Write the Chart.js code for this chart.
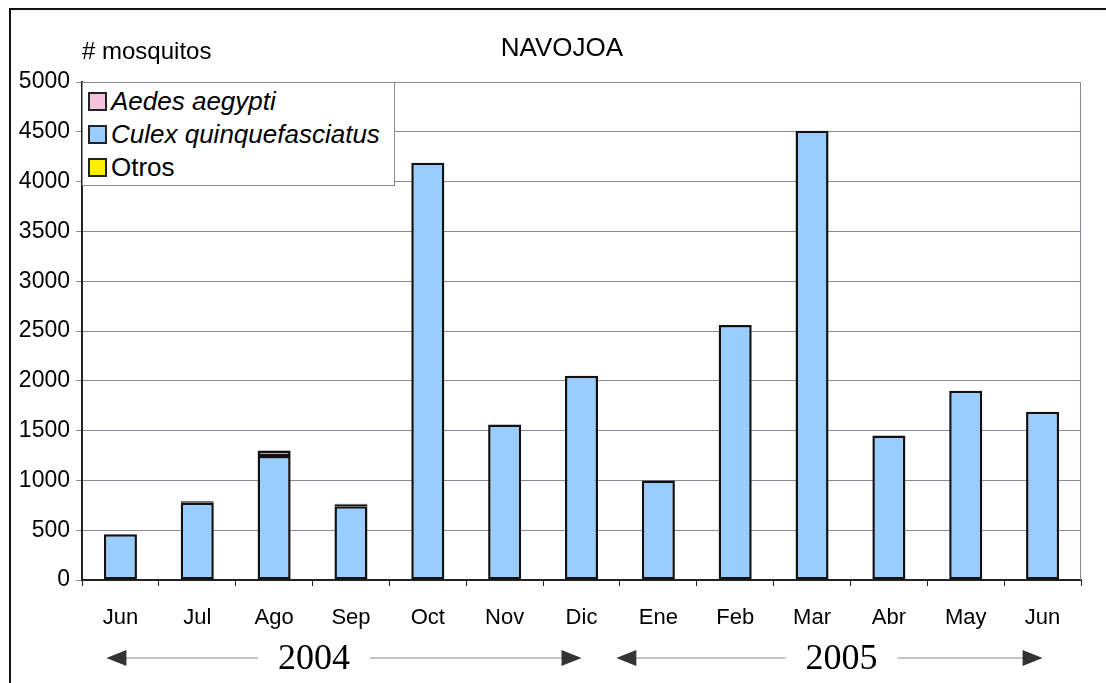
<!DOCTYPE html>
<html>
<head>
<meta charset="utf-8">
<script src="https://cdn.jsdelivr.net/npm/chart.js@4/dist/chart.umd.min.js"></script>
<style>
  html, body { margin: 0; padding: 0; background: #fff; }
  #wrap { position: relative; width: 1106px; height: 683px; overflow: hidden; font-family: 'Liberation Sans', Arial, sans-serif; }
  #frame { position: absolute; left: 9px; top: 8px; width: 1110px; height: 690px; border: 2px solid #111; box-sizing: border-box; pointer-events: none; }
  #title { position: absolute; left: 412px; width: 300px; top: 32px; text-align: center; font-size: 26px; color: #000; }
  #ylab { position: absolute; left: 82px; top: 37px; font-size: 24px; color: #000; }
  #legend { position: absolute; left: 82px; top: 82px; width: 313px; height: 104px; background: #fff; border: 1px solid #8a8a96; box-sizing: border-box; padding: 2px 0 0 5px; }
  .item { height: 33px; line-height: 33px; font-size: 26px; color: #000; white-space: nowrap; }
  .item i { font-style: italic; }
  .sw { display: inline-block; width: 15px; height: 15px; border: 2px solid #222; margin-right: 4px; vertical-align: -1px; }
  canvas { position: absolute; left: 0; top: 0; }
</style>
</head>
<body>
<div id="wrap">
  <canvas id="navChart" width="1106" height="683"></canvas>
  <div id="title">NAVOJOA</div>
  <div id="ylab"># mosquitos</div>
  <div id="legend"></div>
  <div id="frame"></div>
</div>
<script>
'use strict';

// --- data ---
const MONTHS = ['Jun', 'Jul', 'Ago', 'Sep', 'Oct', 'Nov', 'Dic', 'Ene', 'Feb', 'Mar', 'Abr', 'May', 'Jun'];
const CULEX  = [460, 775, 1245, 740, 4190, 1560, 2050, 1000, 2560, 4510, 1450, 1900, 1690];
const OTROS  = [null, 15, null, 15, null, null, null, null, null, null, null, null, null];
const AEDES  = [null, null, 55, 10, null, null, null, null, null, null, null, null, null];
const Y_TICKS = [0, 500, 1000, 1500, 2000, 2500, 3000, 3500, 4000, 4500, 5000];
const YEARS = ['2004', '2005'];
const YEAR_FROM = [0, 7];
const YEAR_TO = [6, 12];

const COL_AEDES = '#f5c4dc';
const COL_CULEX = '#99ccff';
const COL_OTROS = '#ffee00';

// legend (html)
const legendItems = [
  { label: 'Aedes aegypti', color: COL_AEDES, italic: true },
  { label: 'Culex quinquefasciatus', color: COL_CULEX, italic: true },
  { label: 'Otros', color: COL_OTROS, italic: false },
];
document.getElementById('legend').innerHTML = legendItems.map(it =>
  '<div class="item"><span class="sw" style="background:' + it.color + '"></span>' +
  (it.italic ? '<i>' + it.label + '</i>' : it.label) + '</div>').join('');

// plot frame (top/right grey border)
const frameBox = {
  id: 'frameBox',
  beforeDatasetsDraw(chart) {
    const { ctx, chartArea: a } = chart;
    ctx.save();
    ctx.strokeStyle = '#8a8a96';
    ctx.lineWidth = 1;
    ctx.beginPath();
    ctx.moveTo(a.left, a.top + 0.5);
    ctx.lineTo(a.right - 0.5, a.top + 0.5);
    ctx.lineTo(a.right - 0.5, a.bottom);
    ctx.stroke();
    ctx.restore();
  }
};

// year arrows under the month labels
const yearArrows = {
  id: 'yearArrows',
  afterDraw(chart) {
    const { ctx } = chart;
    const xs = chart.scales.x;
    const y = 658;
    ctx.save();
    ctx.font = '36px "Liberation Serif", "Times New Roman", serif';
    ctx.textAlign = 'center';
    ctx.textBaseline = 'middle';
    YEARS.forEach((yr, i) => {
      const x0 = xs.getPixelForValue(YEAR_FROM[i]) - (i === 0 ? 14 : 42);
      const x1 = xs.getPixelForValue(YEAR_TO[i]);
      const mid = i === 0 ? (x0 + x1) / 2 - 30 : (x0 + x1) / 2 + 12;
      const half = ctx.measureText(yr).width / 2 + 20;
      ctx.fillStyle = '#000';
      ctx.fillText(yr, mid, y + 2);
      ctx.strokeStyle = '#888';
      ctx.lineWidth = 1;
      ctx.beginPath();
      ctx.moveTo(x0 + 14, y);
      ctx.lineTo(mid - half, y);
      ctx.moveTo(mid + half, y);
      ctx.lineTo(x1 - 14, y);
      ctx.stroke();
      ctx.fillStyle = '#333';
      ctx.beginPath();
      ctx.moveTo(x0, y); ctx.lineTo(x0 + 20, y - 8); ctx.lineTo(x0 + 20, y + 8); ctx.closePath();
      ctx.moveTo(x1, y); ctx.lineTo(x1 - 20, y - 8); ctx.lineTo(x1 - 20, y + 8); ctx.closePath();
      ctx.fill();
    });
    ctx.restore();
  }
};

const barBase = { borderColor: '#111', borderWidth: 2.5, borderSkipped: false, barPercentage: 0.43, categoryPercentage: 1 };

new Chart(document.getElementById('navChart').getContext('2d'), {
  type: 'bar',
  data: {
    labels: MONTHS,
    datasets: [
      Object.assign({ label: 'Culex quinquefasciatus', data: CULEX, backgroundColor: COL_CULEX }, barBase),
      Object.assign({ label: 'Otros', data: OTROS, backgroundColor: COL_OTROS }, barBase),
      Object.assign({ label: 'Aedes aegypti', data: AEDES, backgroundColor: COL_AEDES }, barBase),
    ],
  },
  options: {
    responsive: false,
    animation: false,
    layout: { padding: { left: 10, top: 82, right: 25, bottom: 0 } },
    plugins: { legend: { display: false }, tooltip: { enabled: false } },
    scales: {
      x: {
        stacked: true,
        afterFit: s => { s.height = 103; },
        border: { color: '#222', width: 2 },
        grid: { drawOnChartArea: false, offset: true, tickLength: 6, color: '#222' },
        ticks: { color: '#000', padding: 19, font: { family: '"Liberation Sans Narrow", "Liberation Sans", Arial', size: 22 } },
      },
      y: {
        stacked: true,
        min: 0,
        max: 5000,
        afterBuildTicks: s => { s.ticks = Y_TICKS.map(v => ({ value: v })); },
        afterFit: s => { s.width = 72; },
        border: { color: '#222', width: 2 },
        grid: { color: '#8a8a96', tickLength: 6, lineWidth: 1 },
        ticks: { color: '#000', padding: 6, callback: v => String(v), font: { family: '"Liberation Sans", Arial', size: 23 } },
      },
    },
  },
  plugins: [frameBox, yearArrows],
});
</script>
</body>
</html>
